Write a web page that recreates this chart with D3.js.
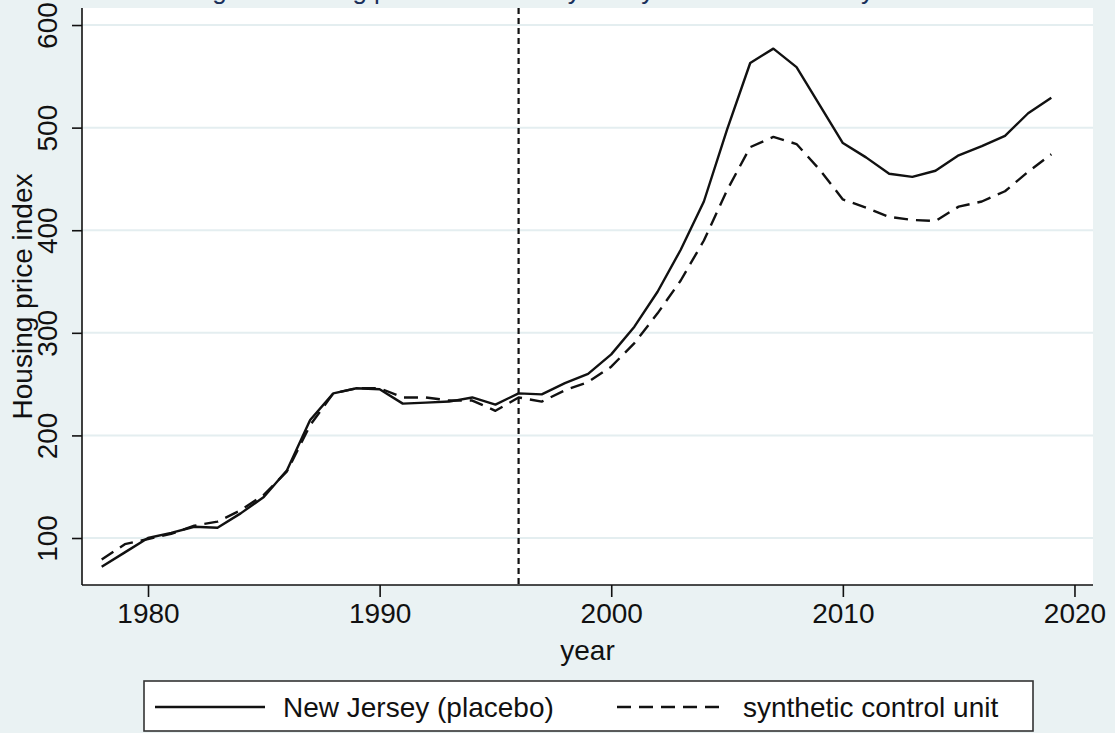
<!DOCTYPE html>
<html>
<head>
<meta charset="utf-8">
<script src="https://cdn.jsdelivr.net/npm/d3@7"></script>
<style>
  html, body { margin: 0; padding: 0; background: #eaf2f3; }
  svg { display: block; }
</style>
</head>
<body>
<svg class="scPlot" width="1115" height="733"></svg>
<script>
// year axis and the two series
const years = [1978, 1979, 1980, 1981, 1982, 1983, 1984, 1985, 1986, 1987,
               1988, 1989, 1990, 1991, 1992, 1993, 1994, 1995, 1996, 1997,
               1998, 1999, 2000, 2001, 2002, 2003, 2004, 2005, 2006, 2007,
               2008, 2009, 2010, 2011, 2012, 2013, 2014, 2015, 2016, 2017,
               2018, 2019];
const newJersey = [72, 86, 100, 105, 111, 110, 124, 140, 166, 215,
                   241, 246, 245, 231, 232, 233, 237, 230, 241, 240,
                   251, 260, 279, 306, 340, 381, 428, 498, 563, 577,
                   559, 522, 485, 471, 455, 452, 458, 473, 482, 492,
                   514, 529];
const synthetic = [79, 94, 99, 104, 112, 116, 127, 142, 165, 210,
                   241, 246, 246, 237, 237, 234, 234, 224, 237, 233,
                   244, 252, 267, 290, 319, 351, 390, 439, 481, 491,
                   484, 459, 430, 422, 413, 410, 409, 423, 428, 438,
                   457, 474];
const xTicks = [1980, 1990, 2000, 2010, 2020];
const yTicks = [100, 200, 300, 400, 500, 600];
const treatYear = 1996;
const seriesNames = ['New Jersey (placebo)', 'synthetic control unit'];

function drawPlacebo(){
  const svg = d3.select('svg.scPlot');
  const width = 1115;
  const height = 733;
  const font = "'Liberation Sans', Arial, Helvetica, sans-serif";
  const bg = '#eaf2f3';
  const ink = '#111';

  const plot = {left: 82, right: 1093, top: 8, bottom: 585};

  const x = d3.scaleLinear()
      .domain([1977.15, 2020.8])
      .range([plot.left, plot.right]);

  const y = d3.scaleLinear()
      .domain([54.2, 616.6])
      .range([plot.bottom, plot.top]);

  svg.append('rect')
      .attr('width', width)
      .attr('height', height)
      .attr('fill', bg);

  // title, clipped at the top edge in the original too
  svg.append('text')
      .attr('class', 'title')
      .attr('x', 150)
      .attr('y', -1)
      .text('Change in housing price: New Jersey vs. synthetic New Jersey')
      .style('font-family', font)
      .style('font-size', '26px')
      .style('fill', '#1a2f5a');

  svg.append('rect')
      .attr('class', 'plotRegion')
      .attr('x', plot.left)
      .attr('y', plot.top)
      .attr('width', plot.right - plot.left)
      .attr('height', plot.bottom - plot.top)
      .attr('fill', 'white');

  // grid
  svg.append('g')
      .attr('class', 'grid')
      .selectAll('line')
      .data(yTicks)
      .join('line')
      .attr('x1', plot.left)
      .attr('x2', plot.right)
      .attr('y1', d => y(d))
      .attr('y2', d => y(d))
      .attr('stroke', '#e4eef0')
      .attr('stroke-width', 2);

  // y axis
  const yAxis = svg.append('g')
      .attr('class', 'yAxis')
      .attr('transform', `translate(${plot.left}, 0)`)
      .call(d3.axisLeft(y).tickValues(yTicks).tickSize(10).tickSizeOuter(0).tickPadding(0));
  yAxis.select('.domain').remove();
  yAxis.selectAll('.tick line').attr('stroke', ink).attr('stroke-width', 1.6);
  yAxis.selectAll('.tick text')
      .attr('x', null)
      .attr('dy', null)
      .attr('transform', 'translate(-25, 0) rotate(-90)')
      .attr('text-anchor', 'middle')
      .style('font-family', font)
      .style('font-size', '28px')
      .style('fill', ink);

  svg.append('line')
      .attr('x1', plot.left)
      .attr('x2', plot.left)
      .attr('y1', plot.top)
      .attr('y2', plot.bottom)
      .attr('stroke', ink)
      .attr('stroke-width', 1.6);

  // x axis
  const xAxis = svg.append('g')
      .attr('class', 'xAxis')
      .attr('transform', `translate(0, ${plot.bottom})`)
      .call(d3.axisBottom(x).tickValues(xTicks).tickFormat(d3.format('d')).tickSize(12).tickSizeOuter(0).tickPadding(6));
  xAxis.select('.domain').remove();
  xAxis.selectAll('.tick line').attr('stroke', ink).attr('stroke-width', 1.6);
  xAxis.selectAll('.tick text')
      .style('font-family', font)
      .style('font-size', '28px')
      .style('fill', ink);

  svg.append('line')
      .attr('x1', plot.left)
      .attr('x2', plot.right)
      .attr('y1', plot.bottom)
      .attr('y2', plot.bottom)
      .attr('stroke', ink)
      .attr('stroke-width', 1.6);

  // axis titles
  svg.append('text')
      .attr('transform', `translate(32, ${(plot.top + plot.bottom) / 2}) rotate(-90)`)
      .attr('text-anchor', 'middle')
      .text('Housing price index')
      .style('font-family', font)
      .style('font-size', '28px')
      .style('fill', ink);

  svg.append('text')
      .attr('x', (plot.left + plot.right) / 2)
      .attr('y', 660)
      .attr('text-anchor', 'middle')
      .text('year')
      .style('font-family', font)
      .style('font-size', '28px')
      .style('fill', ink);

  // treatment year
  svg.append('line')
      .attr('class', 'treat')
      .attr('x1', x(treatYear))
      .attr('x2', x(treatYear))
      .attr('y1', plot.top)
      .attr('y2', plot.bottom)
      .attr('stroke', ink)
      .attr('stroke-width', 2.2)
      .attr('stroke-dasharray', '6,4');

  const line = d3.line()
      .x((d, i) => x(years[i]))
      .y(d => y(d));

  const series = [
    {name: seriesNames[0], values: newJersey, dash: null},
    {name: seriesNames[1], values: synthetic, dash: '14,8'}
  ];

  svg.append('g')
      .attr('class', 'lines')
      .selectAll('path')
      .data(series)
      .join('path')
      .attr('d', d => line(d.values))
      .attr('fill', 'none')
      .attr('stroke', ink)
      .attr('stroke-width', 2.4)
      .attr('stroke-linejoin', 'round')
      .attr('stroke-dasharray', d => d.dash);

  // legend
  const legend = svg.append('g').attr('class', 'legend');
  legend.append('rect')
      .attr('x', 144)
      .attr('y', 681)
      .attr('width', 889)
      .attr('height', 50)
      .attr('fill', 'white')
      .attr('stroke', '#333')
      .attr('stroke-width', 1.6);

  const legX = [[155, 265, 283], [617, 727, 743]];
  series.forEach((s, i) => {
    legend.append('line')
        .attr('x1', legX[i][0])
        .attr('x2', legX[i][1])
        .attr('y1', 707)
        .attr('y2', 707)
        .attr('stroke', ink)
        .attr('stroke-width', 2.4)
        .attr('stroke-dasharray', s.dash);
    legend.append('text')
        .attr('x', legX[i][2])
        .attr('y', 717)
        .text(s.name)
        .style('font-family', font)
        .style('font-size', '28px')
        .style('fill', ink);
  });
}

drawPlacebo();
</script>
</body>
</html>
